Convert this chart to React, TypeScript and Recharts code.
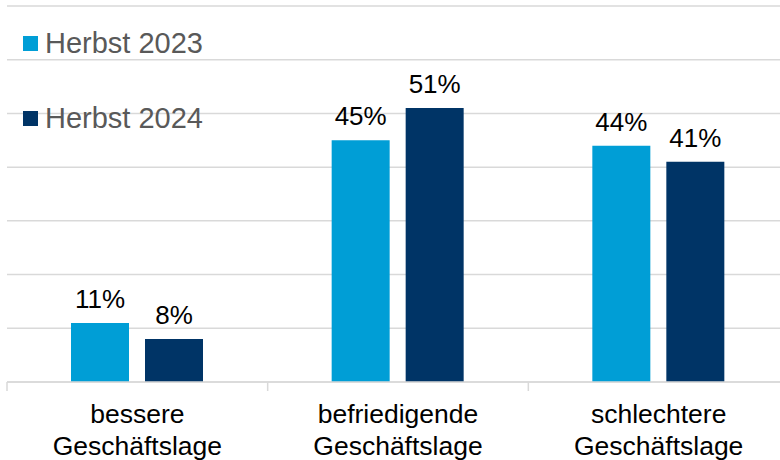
import React from 'react';
import { BarChart, Bar, XAxis, YAxis, CartesianGrid, LabelList, Legend } from 'recharts';

const categories = ['bessere Geschäftslage', 'befriedigende Geschäftslage', 'schlechtere Geschäftslage'];
const herbst2023 = [11, 45, 44];
const herbst2024 = [8, 51, 41];
const seriesNames = ['Herbst 2023', 'Herbst 2024'];
const yTicks = [0, 10, 20, 30, 40, 50, 60, 70];

const COLOR_A = '#009ED6';
const COLOR_B = '#003466';
const GRID = '#d9d9d9';
const FONT = '"Liberation Sans", Arial, sans-serif';

const data = categories.map((c, i) => ({ name: c, a: herbst2023[i], b: herbst2024[i] }));

const CategoryTick = (props: any) => {
  const { x, y, payload } = props;
  const words = String(payload.value).split(' ');
  const off = payload && typeof payload.offset === 'number' ? payload.offset : 0;
  return (
    <g>
      {off > 0 && (
        <line x1={x - off} x2={x - off} y1={y} y2={y + 9} stroke={GRID} strokeWidth={1.5} />
      )}
      <text x={x} y={y} textAnchor="middle" fill="#000" fontSize={26.5} fontFamily={FONT}>
        <tspan x={x} dy={41}>{words[0]}</tspan>
        <tspan x={x} dy={32}>{words.slice(1).join(' ')}</tspan>
      </text>
    </g>
  );
};

const LegendContent = () => {
  const colors = [COLOR_A, COLOR_B];
  return (
    <div style={{ fontFamily: FONT }}>
      {seriesNames.map((n, i) => (
        <div
          key={n}
          style={{ display: 'flex', alignItems: 'center', height: 28, marginBottom: i === 0 ? 47 : 0 }}
        >
          <span style={{ display: 'inline-block', width: 15, height: 15, background: colors[i], marginRight: 7 }} />
          <span style={{ fontSize: 29, lineHeight: '28px', color: '#595959', whiteSpace: 'nowrap' }}>{n}</span>
        </div>
      ))}
    </div>
  );
};

export default function App() {
  return (
    <div style={{ position: 'absolute', left: 0, top: 0, width: 780, height: 460, overflow: 'hidden', background: '#fff' }}>
      <BarChart
        width={789}
        height={460}
        data={data}
        margin={{ top: 6, right: 0, left: 7, bottom: 0 }}
        barSize={58}
        barGap={16}
      >
        <CartesianGrid horizontal vertical={false} stroke={GRID} strokeWidth={1.5} />
        <YAxis hide domain={[0, 70]} ticks={yTicks} type="number" />
        <XAxis
          dataKey="name"
          height={78}
          axisLine={{ stroke: GRID, strokeWidth: 1.5 }}
          tickLine={false}
          tickSize={0}
          tickMargin={0}
          interval={0}
          tick={<CategoryTick />}
        />
        <Legend
          layout="vertical"
          align="center"
          verticalAlign="middle"
          wrapperStyle={{ left: 23, top: 29, width: 250 }}
          content={<LegendContent />}
        />
        <Bar dataKey="a" name={seriesNames[0]} fill={COLOR_A} isAnimationActive={false}>
          <LabelList dataKey="a" position="top" offset={15} formatter={(v: any) => `${v}%`} fill="#000" fontSize={26} fontFamily={FONT} />
        </Bar>
        <Bar dataKey="b" name={seriesNames[1]} fill={COLOR_B} isAnimationActive={false}>
          <LabelList dataKey="b" position="top" offset={15} formatter={(v: any) => `${v}%`} fill="#000" fontSize={26} fontFamily={FONT} />
        </Bar>
      </BarChart>
    </div>
  );
}
